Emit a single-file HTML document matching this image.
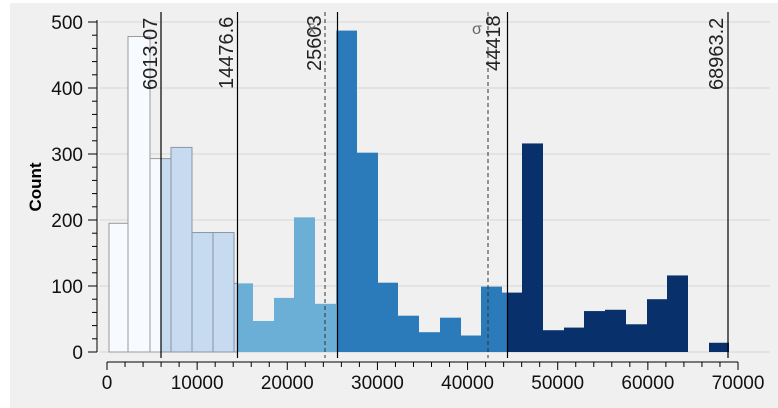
<!DOCTYPE html>
<html><head><style>
body{margin:0;background:#fff}
svg{display:block;font-family:"Liberation Sans",sans-serif}
</style></head><body>
<svg width="778" height="408" viewBox="0 0 778 408">
<rect x="10" y="3" width="768" height="405" fill="#f0f0f0"/>
<g stroke="#d6d6d6" stroke-width="1">
<line x1="100" y1="22" x2="770" y2="22"/><line x1="100" y1="88" x2="770" y2="88"/>
<line x1="100" y1="154" x2="770" y2="154"/><line x1="100" y1="220" x2="770" y2="220"/>
<line x1="100" y1="286" x2="770" y2="286"/><line x1="100" y1="352" x2="770" y2="352"/>
</g>
<g id="bars"></g>
<g stroke="#000" stroke-width="1.2">
<line x1="161" y1="12" x2="161" y2="358"/>
<line x1="237.5" y1="12" x2="237.5" y2="358"/>
<line x1="337.5" y1="12" x2="337.5" y2="358"/>
<line x1="507.5" y1="12" x2="507.5" y2="358"/>
<line x1="728" y1="12" x2="728" y2="358"/>
</g>
<g stroke="#333" stroke-width="1" stroke-dasharray="4,3">
<line x1="325" y1="12" x2="325" y2="358"/>
<line x1="488" y1="12" x2="488" y2="358"/>
</g>
<g font-size="20" fill="#222">
<text transform="translate(157,90) rotate(-90)">6013.07</text>
<text transform="translate(233,89) rotate(-90)">14476.6</text>
<text transform="translate(321,71) rotate(-90)">25603</text>
<text transform="translate(500,71) rotate(-90)">44418</text>
<text transform="translate(723,90) rotate(-90)">68963.2</text>
<text x="308" y="34" font-size="16" fill="#666">x̄</text>
<text x="472" y="34" font-size="16" fill="#666">σ</text>
</g>
<g stroke="#000" stroke-width="1" id="yax"><line x1="97" y1="20" x2="97" y2="352"/></g>
<g font-size="19" fill="#111" text-anchor="end">
<text x="83" y="29">500</text><text x="83" y="95">400</text><text x="83" y="161">300</text>
<text x="83" y="227">200</text><text x="83" y="293">100</text><text x="83" y="359">0</text>
</g>
<text transform="translate(41,187) rotate(-90)" font-size="17" font-weight="bold" text-anchor="middle">Count</text>
<g stroke="#000" stroke-width="1" id="xax"><line x1="107" y1="362" x2="738" y2="362"/></g>
<g font-size="19" fill="#111" text-anchor="middle" id="xl"></g>
<script>
var ns="http://www.w3.org/2000/svg";
function el(p,t,a){var e=document.createElementNS(ns,t);for(var k in a)e.setAttribute(k,a[k]);p.appendChild(e);return e;}
var b=document.getElementById("bars");
var bars=[[109,128,195],[128,150,478],[150,171,293],[171,192,310],[192,213,181],[213,234,181],[234,253,104],[253,274,47],[274,294,82],[294,315,204],[315,336,73],[336,357,487],[357,378,302],[378,398,105],[398,419,55],[419,440,30],[440,461,52],[461,481,25],[481,502,99],[502,522,90],[522,543,316],[543,564,33],[564,584,37],[584,605,62],[605,626,64],[626,647,42],[647,667,80],[667,688,116],[709,729,14]];
var cuts=[161,237.5,337.5,507.5,1000];
var cols=["#f7fbff","#c6dbef","#6baed6","#2b7bba","#08306b"];
var strokes=["#9a9a9a","#8a96a4","none","none","none"];
bars.forEach(function(r){
 var x0=r[0],x1=r[1],h=r[2]*0.66;var lo=x0;
 for(var i=0;i<5;i++){var start=i==0?-1e9:cuts[i-1];var end=cuts[i];
  var a=Math.max(lo,start),c=Math.min(x1,end);
  if(c>a){el(b,"rect",{x:a,y:352-h,width:c-a,height:h,fill:cols[i],stroke:strokes[i],"stroke-width":1});}
 }
});
var y=document.getElementById("yax");
for(var v=0;v<=500;v+=20){var yy=352-v*0.66;el(y,"line",{x1:v%100==0?88:92,y1:yy,x2:97,y2:yy});}
var x=document.getElementById("xax"),xl=document.getElementById("xl");
for(var v=0;v<=70000;v+=2000){var xx=107+v*631/70000;el(x,"line",{x1:xx,y1:362,x2:xx,y2:v%10000==0?370:367});}
for(var v=0;v<=70000;v+=10000){var t=el(xl,"text",{x:107+v*631/70000,y:389});t.textContent=v;}
</script>
</svg>
</body></html>
